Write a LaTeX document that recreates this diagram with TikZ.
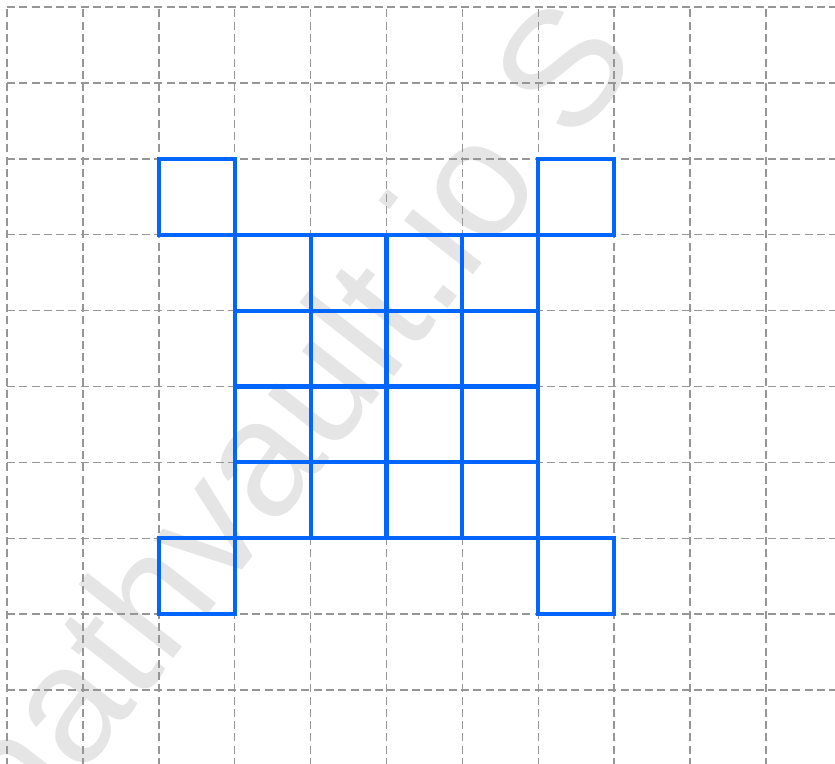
\documentclass[tikz,border=0pt]{standalone}
\usepackage{fontspec}
\setmainfont{Liberation Sans}
\definecolor{gridgray}{RGB}{150,150,150}
\definecolor{tileblue}{RGB}{0,102,255}
\definecolor{markgray}{RGB}{229,229,229}
\tikzset{%
  paper/.style = { dash pattern=on 3pt off 1.6pt, draw=gridgray, line width=0.55pt },
  tile/.style = { draw=tileblue, line width=1.55pt },
  watermark/.style = { text=markgray, rotate=52, inner sep=0pt, font=\fontsize{62}{70}\selectfont }
}
\begin{document}
\begin{tikzpicture}

  \useasboundingbox (-0.092,0.039) rectangle (10.909,10.092);

  % watermark
  \node[watermark] (wm) at (3.5,4.35) {mathvault.io S};

  % squared paper
  \draw[paper] (0,0) grid (10.95,10);

  % middle block
  \draw[tile,step=1.0] (3,3) grid (7,7);

  % corner squares
  \foreach \x/\y in {2/7,7/7,2/2,7/2} {
    \draw[tile] (\x,\y) rectangle (\x+1,\y+1);
  }

\end{tikzpicture}
\end{document}
